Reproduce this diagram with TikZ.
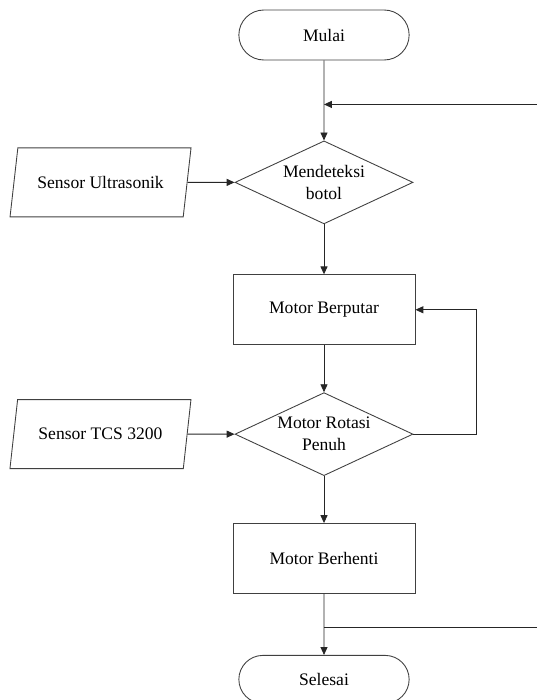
\documentclass[tikz,border=0pt]{standalone}
\usepackage{fontspec}
\setmainfont{Liberation Serif}
\newfontfamily\chartfont{Liberation Serif}
\usetikzlibrary{positioning, arrows.meta, shapes.geometric, shapes.misc}

\begin{document}
\begin{tikzpicture}[
    node distance=1cm and 0.94cm,
    every node/.style={font=\chartfont\fontsize{10}{12.5}\selectfont},
    terminal/.style={draw=black!75, rounded rectangle, minimum width=3.64cm, minimum height=1cm, line width=0.5pt},
    process/.style={draw=black!75, rectangle, minimum width=3.64cm, minimum height=1.4cm, line width=0.5pt},
    decision/.style={draw=black!75, diamond, minimum width=3.56cm, minimum height=1.66cm, inner sep=0pt, line width=0.5pt},
    sensor/.style={draw=black!75, trapezium, trapezium left angle=72, trapezium right angle=108, trapezium stretches body=true, minimum width=3.62cm, minimum height=1.38cm, line width=0.5pt},
    arrow/.style={-{Triangle[length=4.5pt, width=4pt]}, line width=0.5pt, black!85},
    line/.style={line width=0.5pt, black!85}
]
    \useasboundingbox (0,0) rectangle (10.74,-14);
    \coordinate (rim) at (10.74,0);

    \node[terminal] (start) at (6.48,-0.7) {Mulai};
    \node[decision, below=1.6cm of start, label={[align=center]center:Mendeteksi\\botol}] (dec1) {};
    \node[process, below=1cm of dec1] (proc1) {Motor Berputar};
    \node[decision, below=0.94cm of proc1, label={[align=center]center:Motor Rotasi\\Penuh}] (dec2) {};
    \node[process, below=0.94cm of dec2] (proc2) {Motor Berhenti};
    \node[terminal, below=1.22cm of proc2, minimum height=0.96cm] (stop) {Selesai};

    \node[sensor, left=of dec1] (sen1) {Sensor Ultrasonik};
    \node[sensor, left=of dec2] (sen2) {Sensor TCS 3200};

    \coordinate[below=0.88cm of start] (j1);
    \coordinate[below=0.66cm of proc2] (j2);

    \draw[arrow] (start) -- (dec1);
    \draw[arrow] (j1 -| rim) -- (j1);
    \draw[arrow] (sen1) -- (dec1);
    \draw[arrow] (dec1) -- (proc1);
    \draw[arrow] (proc1) -- (dec2);
    \draw[arrow] (sen2) -- (dec2);
    \draw[arrow] (dec2.east) -- ++(1.26,0) |- (proc1.east);
    \draw[arrow] (dec2) -- (proc2);
    \draw[arrow] (proc2) -- (stop);
    \draw[line] (j2) -- (j2 -| rim);

\end{tikzpicture}
\end{document}
